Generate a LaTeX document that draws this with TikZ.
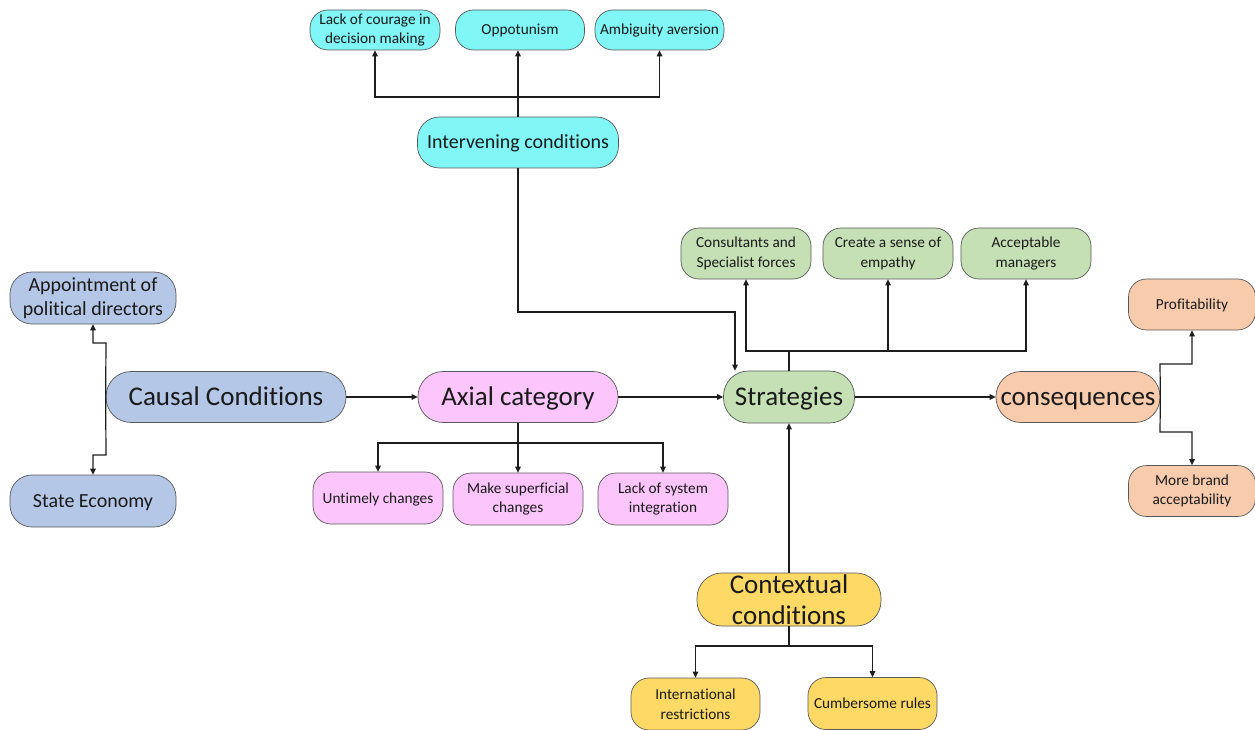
\documentclass[tikz,border=0pt]{standalone}
\usepackage{fontspec}
\setmainfont{Carlito}[Ligatures={NoCommon}]
\usetikzlibrary{arrows.meta}
\definecolor{cyanf}{HTML}{80F6F6}
\definecolor{bluef}{HTML}{B4C7E7}
\definecolor{pinkf}{HTML}{FCC6FC}
\definecolor{greenf}{HTML}{C5E0B4}
\definecolor{orangef}{HTML}{F8CBAD}
\definecolor{yellowf}{HTML}{FFD966}
\definecolor{linec}{HTML}{1E1E1E}
\definecolor{textc}{HTML}{1A1A1A}
\tikzset{
  box/.style={draw=black!65, line width=0.7pt, text=textc, align=center, inner sep=0pt, rounded corners=18pt},
  bigbox/.style={box, rounded corners=25pt, font=\fontsize{27}{31}\selectfont, text height=23pt, text depth=6pt},
  smallbox/.style={box, font=\fontsize{15.3}{19.5}\selectfont},
  smallone/.style={smallbox, text height=13pt, text depth=3pt},
  midbox/.style={box, rounded corners=22pt, font=\fontsize{20}{24}\selectfont},
  midone/.style={midbox, text height=17pt, text depth=5pt},
  conn/.style={draw=linec, line width=1.2pt},
  arr/.style={conn, -{Triangle[length=6pt,width=5.5pt]}}
}
\begin{document}
\begin{tikzpicture}[x=1pt,y=-1pt]
\useasboundingbox (0,0) rectangle (1255,730);
% intervening
\node[smallbox, fill=cyanf, minimum width=130, minimum height=40] (lcd) at (375,30) {Lack of courage in\\decision making};
\node[smallone, fill=cyanf, minimum width=129, minimum height=40] (opp) at (520,30) {Oppotunism};
\node[smallone, fill=cyanf, minimum width=129, minimum height=40] (amb) at (659.5,30) {Ambiguity aversion};
\node[midone, fill=cyanf, minimum width=201, minimum height=51] (int) at (518,142.5) {Intervening conditions};
% strategies
\node[smallbox, fill=greenf, minimum width=130, minimum height=51] (cons) at (746,253.5) {Consultants and\\Specialist forces};
\node[smallbox, fill=greenf, minimum width=130, minimum height=51] (emp) at (888,253.5) {Create a sense of\\empathy};
\node[smallbox, fill=greenf, minimum width=130, minimum height=51] (acc) at (1026,253.5) {Acceptable\\managers};
\node[bigbox, fill=greenf, minimum width=131, minimum height=52] (str) at (789,397) {Strategies};
% causal
\node[bigbox, fill=bluef, minimum width=240, minimum height=51] (cc) at (226,397) {Causal Conditions};
\node[midbox, fill=bluef, minimum width=166, minimum height=52] (app) at (93,298) {Appointment of\\political directors};
\node[midone, fill=bluef, minimum width=166, minimum height=52] (se) at (93,501) {State Economy};
% axial
\node[bigbox, fill=pinkf, minimum width=200, minimum height=51] (ax) at (518,397) {Axial category};
\node[smallone, fill=pinkf, minimum width=130, minimum height=52] (unt) at (378,498) {Untimely changes};
\node[smallbox, fill=pinkf, minimum width=130, minimum height=52] (sup) at (518,499) {Make superficial\\changes};
\node[smallbox, fill=pinkf, minimum width=130, minimum height=52] (lsi) at (663,499) {Lack of system\\integration};
% consequences
\node[bigbox, fill=orangef, minimum width=164, minimum height=51] (con) at (1078,397) {consequences};
\node[smallone, fill=orangef, minimum width=127, minimum height=51] (prof) at (1192,304.5) {Profitability};
\node[smallbox, fill=orangef, minimum width=127, minimum height=51] (mba) at (1192,491) {More brand\\acceptability};
% contextual
\node[box, rounded corners=25pt, fill=yellowf, minimum width=184, minimum height=53] (ctx) at (789,599.5) {};
\node[text=textc, align=center, inner sep=0pt, font=\fontsize{27}{31}\selectfont] (ctxt) at (789,599.5) {Contextual\\conditions};
\node[smallbox, fill=yellowf, minimum width=129, minimum height=52] (intl) at (695.5,704) {International\\restrictions};
\node[smallone, fill=yellowf, minimum width=129, minimum height=52] (cum) at (872.5,703.5) {Cumbersome rules};
% coordinates
\coordinate (ib) at (518,97);
\coordinate (ist) at (735,312);
\coordinate (sb) at (789,351);
\coordinate (ab) at (518,443);
\coordinate (cb) at (789,646);
\coordinate (cct) at (106,343);
\coordinate (ccb) at (106,455);
\coordinate (ct) at (1160,364);
\coordinate (cbt) at (1160,432);
% connectors
\draw[conn] (int.north) -- (ib);
\draw[arr] (ib) -| (lcd.south);
\draw[arr] (ib) -- (opp.south -| ib);
\draw[arr] (ib) -| (amb.south);
\draw[arr] (int.south) |- (ist) -- (ist |- str.north);
\draw[conn] (str.north) -- (sb);
\draw[arr] (sb) -| (cons.south);
\draw[arr] (sb) -| (emp.south);
\draw[arr] (sb) -| (acc.south);
\draw[arr] (cc.east) -- (ax.west);
\draw[arr] (ax.east) -- (str.west);
\draw[arr] (str.east) -- (con.west);
\draw[arr] (ctx.north) -- (str.south);
\draw[conn] (ax.south) -- (ab);
\draw[arr] (ab) -| (unt.north);
\draw[arr] (ab) -- (sup.north);
\draw[arr] (ab) -| (lsi.north);
\draw[conn] (ctx.south) -- (cb);
\draw[arr] (cb) -| (intl.north);
\draw[arr] (cb) -| (cum.north);
\draw[arr] (cc.west) -- (cct) -| (app.south);
\draw[arr] (cc.west) -- (ccb) -| (se.north);
\draw[arr] (con.east) -- (ct) -| (prof.south);
\draw[arr] (con.east) -- (cbt) -| (mba.north);
\end{tikzpicture}
\end{document}
